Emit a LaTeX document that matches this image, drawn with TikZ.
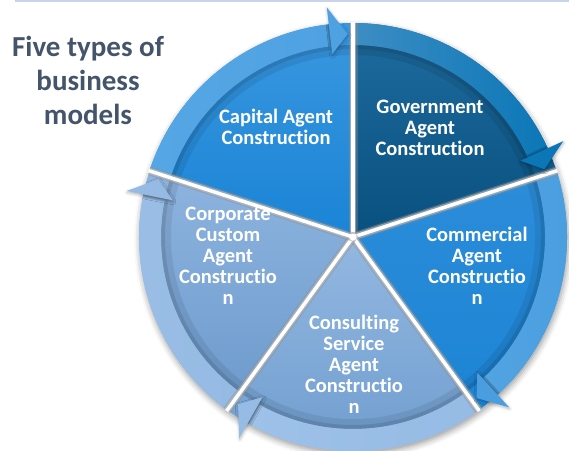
\documentclass[tikz,border=0pt]{standalone}
\usepackage{fontspec}
\setmainfont{Carlito}[Ligatures=NoCommon]
\usetikzlibrary{shadows.blur}

\definecolor{titlecol}{HTML}{44546A}
\definecolor{toprule}{HTML}{C9D3EA}
% wedge fills (top / bottom) and arrow band fills (left / right)
\definecolor{capT}{HTML}{3A97DF}\definecolor{capB}{HTML}{1A84D6}
\definecolor{capL}{HTML}{55A6E4}\definecolor{capR}{HTML}{4FA2E2}
\definecolor{govT}{HTML}{1F6C9F}\definecolor{govB}{HTML}{08507F}
\definecolor{govL}{HTML}{3D8DC3}\definecolor{govR}{HTML}{0B77B7}
\definecolor{comT}{HTML}{2C8DDA}\definecolor{comB}{HTML}{1C84D4}
\definecolor{comL}{HTML}{52A3E1}\definecolor{comR}{HTML}{4A9EDF}
\definecolor{conT}{HTML}{93B8E1}\definecolor{conB}{HTML}{6E9CCE}
\definecolor{conL}{HTML}{9DC1E8}\definecolor{conR}{HTML}{96BBE4}
\definecolor{corT}{HTML}{8EB4DF}\definecolor{corB}{HTML}{6C9ACC}
\definecolor{corL}{HTML}{9ABEE6}\definecolor{corR}{HTML}{95BAE3}

\tikzset{
  seglabel/.style={text=white, align=center,
    font=\bfseries\fontsize{20.5}{21}\selectfont},
  headtitle/.style={text=titlecol, align=center,
    font=\bfseries\fontsize{29}{34}\selectfont},
  headshadow/.style={blur shadow={shadow xshift=0.5pt, shadow yshift=-1.5pt,
    shadow blur radius=3pt, shadow opacity=30}},
}

\begin{document}
\begin{tikzpicture}[x=1pt,y=1pt]
\useasboundingbox (0,0) rectangle (569,450);
\fill[toprule] (15,447.5) rectangle (569,450);

% radii: wedge, inner edge of the arrow band, arrow head outer/inner/tip
\def\Ro{214}\def\Ri{192}\def\Ha{231}\def\Hb{184}\def\Hm{203}

\begin{scope}[shift={(353,213)}]
  % soft shadow under the whole disc
  \path[fill=white, blur shadow={shadow xshift=1pt, shadow yshift=-3pt,
        shadow blur radius=6pt, shadow opacity=40}] (0,0) circle (\Ro);

  % wedges with their arrow bands (arrow runs clockwise, tip at angle \a)
  \foreach \a/\ct/\cb/\cl/\cr in {90/capT/capB/capL/capR, 18/govT/govB/govL/govR,
      -54/comT/comB/comL/comR, -126/conT/conB/conL/conR, 162/corT/corB/corL/corR} {
    \shade[top color=\ct, bottom color=\cb] (0,0) -- (\a+72:\Ro)
      arc[start angle=\a+72, end angle=\a, radius=\Ro] -- cycle;
    \begin{scope}
      \clip (0,0) -- (\a+72:\Ro) arc[start angle=\a+72, end angle=\a, radius=\Ro] -- cycle;
      \draw[black, opacity=.08, line width=10pt]
        (\a+72:\Ri-5) arc[start angle=\a+72, end angle=\a, radius=\Ri-5];
      \draw[black, opacity=.10, line width=4pt]
        (\a+72:\Ri-2) arc[start angle=\a+72, end angle=\a, radius=\Ri-2];
    \end{scope}
    \shade[left color=\cl, right color=\cr] (\a+72:\Ro)
      arc[start angle=\a+72, end angle=\a+6.5, radius=\Ro] -- (\a+6.5:\Ri)
      arc[start angle=\a+6.5, end angle=\a+72, radius=\Ri] -- cycle;
  }

  % gaps between the wedges
  \foreach \s in {90,18,-54,-126,162} {
    \draw[black!45, opacity=.4, line width=9pt] (0,0) -- (\s:\Ro);
    \draw[black!25, opacity=.6, line width=6.5pt] (0,0) -- (\s:\Ro);
    \draw[white, line width=3.5pt] (0,0) -- (\s:\Ro+1);
  }
  \fill[white] (0,0) circle (3.5);

  % arrow heads, each with a soft edge cast onto its band
  \foreach \a/\cr in {90/capR, 18/govR, -54/comR, -126/conR, 162/corR} {
    \begin{scope}
      \clip (\a+6.5:\Ro) arc[start angle=\a+6.5, end angle=\a+20, radius=\Ro]
        -- (\a+20:\Ri) arc[start angle=\a+20, end angle=\a+6.5, radius=\Ri] -- cycle;
      \draw[black, opacity=.12, line width=6pt] (\a+6.5:\Ha) -- (\a+6.5:\Hb);
      \draw[black, opacity=.12, line width=2.5pt] (\a+6.5:\Ha) -- (\a+6.5:\Hb);
    \end{scope}
    \fill[\cr, headshadow] (\a+6.5:\Ha) -- (\a+1.5:\Hm) -- (\a+6.5:\Hb) -- cycle;
  }
\end{scope}

% labels
\node[headtitle] (title) at (88,370) {Five types of\\business\\models};
\node[seglabel] (capital) at (276,323) {Capital Agent\\Construction};
\node[seglabel] (government) at (430,322) {Government\\Agent\\Construction};
\node[seglabel] (commercial) at (477,184) {Commercial\\Agent\\Constructio\\n};
\node[seglabel] (consulting) at (354,86) {Consulting\\Service\\Agent\\Constructio\\n};
\node[seglabel] (corporate) at (228,194) {Corporate\\Custom\\Agent\\Constructio\\n};
\end{tikzpicture}
\end{document}
